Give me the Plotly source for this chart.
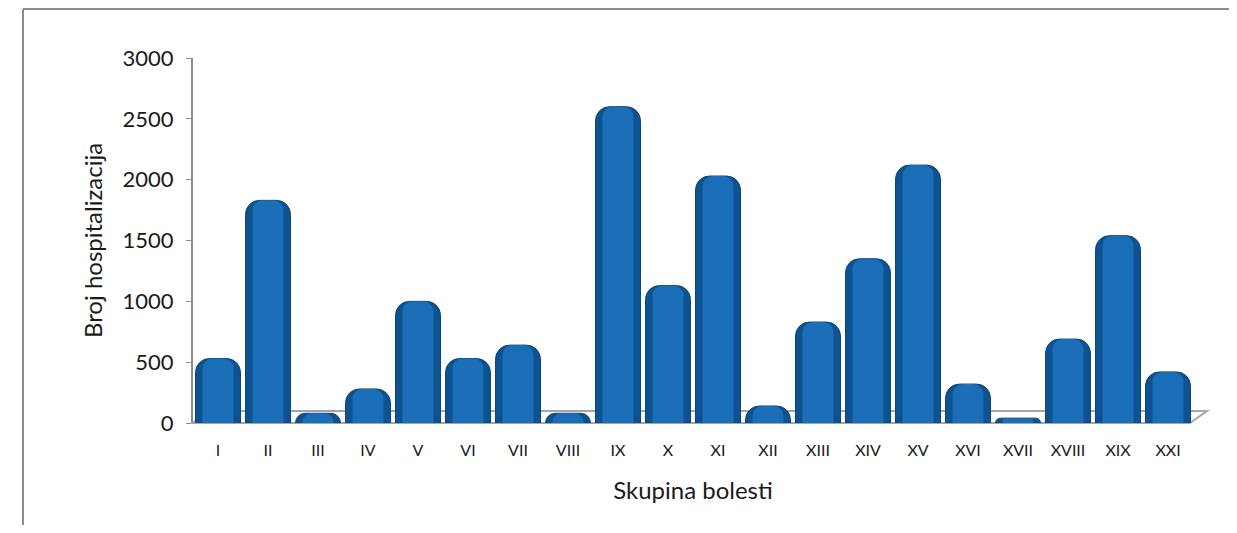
import plotly.graph_objects as go

categories = ["I", "II", "III", "IV", "V", "VI", "VII", "VIII", "IX", "X",
              "XI", "XII", "XIII", "XIV", "XV", "XVI", "XVII", "XVIII", "XIX", "XXI"]
hospitalizations = [530, 1830, 80, 280, 1000, 530, 640, 80, 2600, 1130,
                    2030, 140, 830, 1350, 2120, 320, 40, 690, 1540, 420]
y_ticks = [0, 500, 1000, 1500, 2000, 2500, 3000]

OFF = 8  # page body margin
W, H = 1237 - 2 * OFF, 533 - 2 * OFF
L, T = 193 - OFF, 58 - OFF
R = W - (1193 - OFF)
B = H - (423 - OFF)
pw = W - L - R
ph = H - T - B


def px(x):  # page pixel -> paper
    return (x - OFF - L) / pw


def py(y):
    return (H - B - (y - OFF)) / ph


FONT = "Lato, 'Open Sans', Arial, sans-serif"

fig = go.Figure()
fig.add_trace(go.Bar(
    x=categories, y=hospitalizations, width=0.9,
    marker=dict(color="#0f5290", cornerradius=14,
                line=dict(color="#0b467c", width=1)),
    hoverinfo="x+y", showlegend=False,
))
fig.add_trace(go.Bar(
    x=categories, y=hospitalizations, width=0.62,
    marker=dict(color="#1a6eb8", cornerradius=10, line=dict(width=0)),
    hoverinfo="skip", showlegend=False,
))

# frame around chart (only top and left edges are visible)
fig.add_shape(type="line", xref="paper", yref="paper",
              x0=px(23), x1=px(23), y0=py(540), y1=py(9),
              line=dict(color="#8c8c8c", width=2), layer="below")
fig.add_shape(type="line", xref="paper", yref="paper",
              x0=px(23), x1=px(1260), y0=py(9), y1=py(9),
              line=dict(color="#8c8c8c", width=2), layer="below")
# 3D floor
fig.add_shape(type="path", xref="paper", yref="paper",
              path=f"M {px(193)},{py(423)} L {px(205)},{py(411)} L {px(1207)},{py(411)} L {px(1190)},{py(423)} Z",
              line=dict(color="#a6a6a6", width=2), fillcolor="rgba(0,0,0,0)", layer="below")

fig.update_layout(
    width=W, height=H,
    margin=dict(l=L, r=R, t=T, b=B),
    paper_bgcolor="white", plot_bgcolor="white",
    barmode="overlay",
    font=dict(family=FONT, color="#1a1a1a"),
    xaxis=dict(
        type="category", range=[-0.5, 19.5],
        showline=False, ticks="", showgrid=False,
        ticklabelstandoff=16,
        tickfont=dict(size=16, color="#1a1a1a"),
        title=dict(text="Skupina bolesti", font=dict(size=24), standoff=24),
    ),
    yaxis=dict(
        range=[0, 3000], tickvals=y_ticks,
        showline=True, linecolor="#8c8c8c", linewidth=2,
        ticks="outside", ticklen=5, tickcolor="#8c8c8c", tickwidth=1,
        ticklabelstandoff=8,
        showgrid=False, zeroline=False,
        tickfont=dict(size=22, color="#1a1a1a"),
        title=dict(text="Broj hospitalizacija", font=dict(size=24), standoff=13),
    ),
)

fig.write_html("out.html")
